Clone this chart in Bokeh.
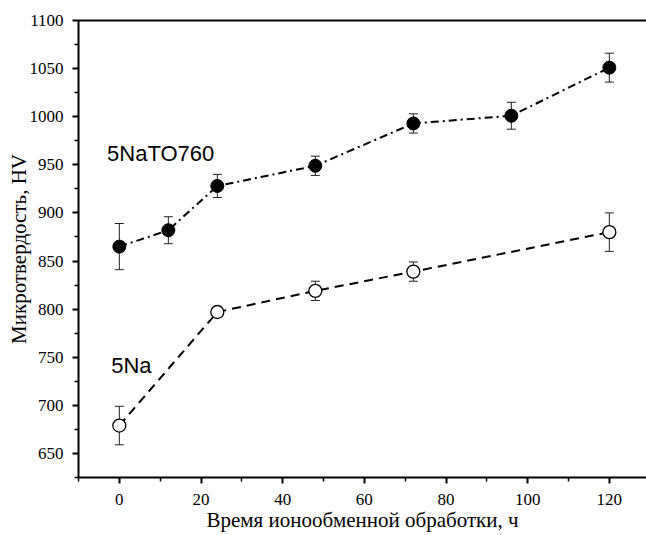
from bokeh.plotting import figure
from bokeh.models import (Range1d, LinearAxis, FixedTicker, Whisker, TeeHead,
                          ColumnDataSource, Label)
from bokeh.embed import file_html
from bokeh.resources import INLINE

# Data
t_to760 = [0, 12, 24, 48, 72, 96, 120]
hv_to760 = [865, 882, 928, 949, 993, 1001, 1051]
err_to760 = [24, 14, 12, 10, 10, 14, 15]

t_na = [0, 24, 48, 72, 120]
hv_na = [679, 797, 819, 839, 880]
err_na = [20, 5, 10, 10, 20]

x_ticks = [0, 20, 40, 60, 80, 100, 120]
y_ticks = [650, 700, 750, 800, 850, 900, 950, 1000, 1050, 1100]

label_to760 = "5NaTO760"
label_na = "5Na"
x_title = "Время ионообменной обработки, ч"
y_title = "Микротвердость, HV"

src1 = ColumnDataSource(dict(x=t_to760, y=hv_to760,
                             lo=[v - e for v, e in zip(hv_to760, err_to760)],
                             hi=[v + e for v, e in zip(hv_to760, err_to760)]))
src2 = ColumnDataSource(dict(x=t_na, y=hv_na,
                             lo=[v - e for v, e in zip(hv_na, err_na)],
                             hi=[v + e for v, e in zip(hv_na, err_na)]))

p = figure(width=646, height=535, output_backend="svg", toolbar_location=None,
           x_range=Range1d(-10, 129.1), y_range=Range1d(625, 1100),
           min_border_left=78, min_border_right=0, min_border_top=20,
           min_border_bottom=58)
p.outline_line_color = None
p.xgrid.visible = False
p.ygrid.visible = False
p.background_fill_color = "white"
p.border_fill_color = "white"

serif = "Liberation Serif"
for ax in (p.xaxis[0], p.yaxis[0]):
    ax.axis_line_width = 2
    ax.axis_line_color = "black"
    ax.major_tick_line_width = 2
    ax.minor_tick_line_width = 1.5
    ax.major_tick_in = 0
    ax.major_tick_out = 6
    ax.minor_tick_in = 0
    ax.minor_tick_out = 4
    ax.major_label_text_font = serif
    ax.major_label_text_font_size = "17px"
    ax.major_label_text_color = "black"
    ax.axis_label_text_font = serif
    ax.axis_label_text_font_size = "21px"
    ax.axis_label_text_font_style = "normal"
    ax.axis_label_text_color = "black"

p.xaxis[0].ticker = FixedTicker(ticks=x_ticks, minor_ticks=[-10, 10, 30, 50, 70, 90, 110, 130])
p.yaxis[0].ticker = FixedTicker(ticks=y_ticks,
                                minor_ticks=[625, 675, 725, 775, 825, 875, 925, 975, 1025, 1075])
p.xaxis[0].axis_label = x_title
p.yaxis[0].axis_label = y_title
p.xaxis[0].major_label_standoff = 10
p.xaxis[0].axis_label_standoff = 0
p.yaxis[0].major_label_standoff = 9
p.yaxis[0].axis_label_standoff = -4

top = LinearAxis(ticker=FixedTicker(ticks=[]), axis_line_width=2,
                 major_label_text_font_size="0px", major_tick_line_color=None,
                 minor_tick_line_color=None)
p.add_layout(top, "above")

p.line("x", "y", source=src1, line_color="black", line_width=2, line_dash="8 4 2 4")
p.line("x", "y", source=src2, line_color="black", line_width=2, line_dash="9 6")

for s in (src1, src2):
    w = Whisker(source=s, base="x", upper="hi", lower="lo", dimension="height",
                line_color="#222222", line_width=1,
                upper_head=TeeHead(size=9, line_color="#222222", line_width=1),
                lower_head=TeeHead(size=9, line_color="#222222", line_width=1))
    p.add_layout(w)

p.scatter("x", "y", source=src1, size=13, marker="circle", fill_color="black",
          line_color="black")
p.scatter("x", "y", source=src2, size=13, marker="circle", fill_color="white",
          line_color="black", line_width=1.3)

p.add_layout(Label(x=-3.0, y=962, text=label_to760, text_font="Liberation Sans",
                   text_font_size="22px", text_baseline="middle", text_align="left",
                   text_color="black"))
p.add_layout(Label(x=-2, y=741, text=label_na, text_font="Liberation Sans",
                   text_font_size="22px", text_baseline="middle", text_align="left",
                   text_color="black"))

open("out.html", "w").write(file_html(p, INLINE))
